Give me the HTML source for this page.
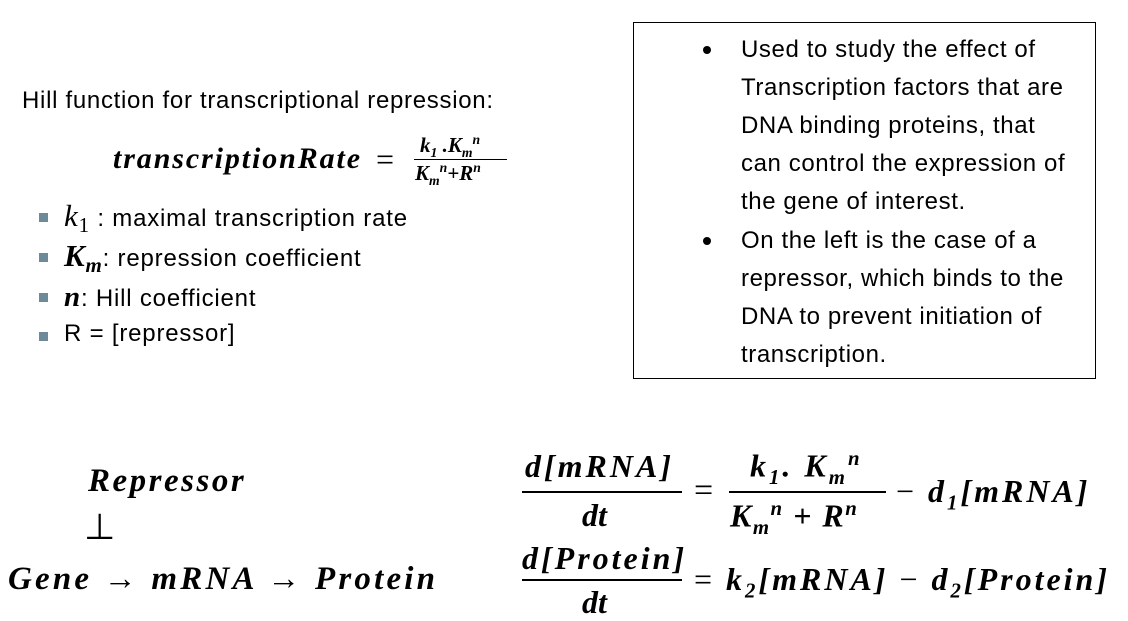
<!DOCTYPE html>
<html><head><meta charset="utf-8"><style>
body{margin:0;width:1128px;height:621px;background:#fff;position:relative;overflow:hidden;color:#000}
.a{position:absolute;white-space:nowrap}
.s{font-family:"Liberation Sans",sans-serif}
.m{font-family:"Liberation Serif",serif;font-style:italic;font-weight:bold}
.r{font-family:"Liberation Serif",serif}
.ln{position:absolute;height:2px;background:#000}
.sq{position:absolute;width:9px;height:9px;background:#6e8a99}
.bx{position:absolute;left:633px;top:22px;width:461px;height:355px;border:1.3px solid #000}
.t{font-family:"Liberation Sans",sans-serif;font-size:24px;left:741px;letter-spacing:0.6px}
.dot{position:absolute;left:703px;width:8px;height:8px;border-radius:50%;background:#000}
sub,sup{font-size:65%}
.e{letter-spacing:3px}
</style></head><body>
<div class="a s" style="left:22px;top:87px;font-size:24px;letter-spacing:0.7px">Hill function for transcriptional repression:</div>
<div class="a m" style="left:113px;top:142px;font-size:30px;letter-spacing:1.9px">transcriptionRate</div>
<div class="a r" style="left:376px;top:141px;font-size:32px">=</div>
<div class="a m" style="left:420px;top:132px;font-size:21px">k<sub>1</sub> .K<sub>m</sub><sup>n</sup></div>
<div class="ln" style="left:414px;top:159px;width:93px;height:1.3px"></div>
<div class="a m" style="left:415px;top:160px;font-size:21px">K<sub>m</sub><sup>n</sup>+R<sup>n</sup></div>

<div class="sq" style="left:39px;top:213px"></div>
<div class="a s" style="left:64px;top:198px;font-size:24px;letter-spacing:0.8px"><span class="r" style="font-style:italic;font-size:31px">k</span><span class="r" style="font-size:21px;position:relative;top:6px">1</span> : maximal transcription rate</div>
<div class="sq" style="left:39px;top:253px"></div>
<div class="a s" style="left:64px;top:238px;font-size:24px;letter-spacing:0.8px"><span class="m" style="font-size:31px">K</span><span class="m" style="font-size:21px;position:relative;top:6px">m</span>: repression coefficient</div>
<div class="sq" style="left:39px;top:293px"></div>
<div class="a s" style="left:64px;top:281px;font-size:24px;letter-spacing:0.8px"><span class="m" style="font-size:29px">n</span>: Hill coefficient</div>
<div class="sq" style="left:39px;top:332px"></div>
<div class="a s" style="left:64px;top:320px;font-size:24px;letter-spacing:0.8px">R = [repressor]</div>

<div class="bx"></div>
<div class="dot" style="top:46px"></div>
<div class="dot" style="top:237px"></div>
<div class="a t" style="top:36px">Used to study the effect of</div>
<div class="a t" style="top:74px">Transcription factors that are</div>
<div class="a t" style="top:112px">DNA binding proteins, that</div>
<div class="a t" style="top:150px">can control the expression of</div>
<div class="a t" style="top:188px">the gene of interest.</div>
<div class="a t" style="top:227px">On the left is the case of a</div>
<div class="a t" style="top:265px">repressor, which binds to the</div>
<div class="a t" style="top:303px">DNA to prevent initiation of</div>
<div class="a t" style="top:341px">transcription.</div>

<div class="a m" style="left:88px;top:463px;font-size:33px;letter-spacing:2.5px">Repressor</div>
<div class="a r" style="left:84px;top:506px;font-size:36px">⊥</div>
<div class="a m" style="left:8px;top:561px;font-size:33px;letter-spacing:3.2px">Gene → mRNA → Protein</div>

<div class="a m e" style="left:525px;top:448px;font-size:32px">d[mRNA]</div>
<div class="ln" style="left:522px;top:491px;width:160px"></div>
<div class="a m" style="left:582px;top:497px;font-size:32px">dt</div>
<div class="a r" style="left:694px;top:472px;font-size:34px">=</div>
<div class="a m e" style="left:750px;top:447px;font-size:32px">k<sub>1</sub>. K<sub>m</sub><sup>n</sup></div>
<div class="ln" style="left:729px;top:491px;width:157px"></div>
<div class="a m e" style="left:730px;top:497px;font-size:32px;letter-spacing:1.5px">K<sub>m</sub><sup>n</sup> + R<sup>n</sup></div>
<div class="a m e" style="left:896px;top:473px;font-size:32px"><span class="r" style="font-style:normal;font-weight:normal">−</span> d<sub>1</sub>[mRNA]</div>

<div class="a m e" style="left:522px;top:540px;font-size:32px">d[Protein]</div>
<div class="ln" style="left:522px;top:579px;width:160px"></div>
<div class="a m" style="left:582px;top:584px;font-size:32px">dt</div>
<div class="a m e" style="left:694px;top:561px;font-size:32px"><span class="r" style="font-style:normal;font-weight:normal">=</span> k<sub>2</sub>[mRNA] <span class="r" style="font-style:normal;font-weight:normal">−</span> d<sub>2</sub>[Protein]</div>
</body></html>
